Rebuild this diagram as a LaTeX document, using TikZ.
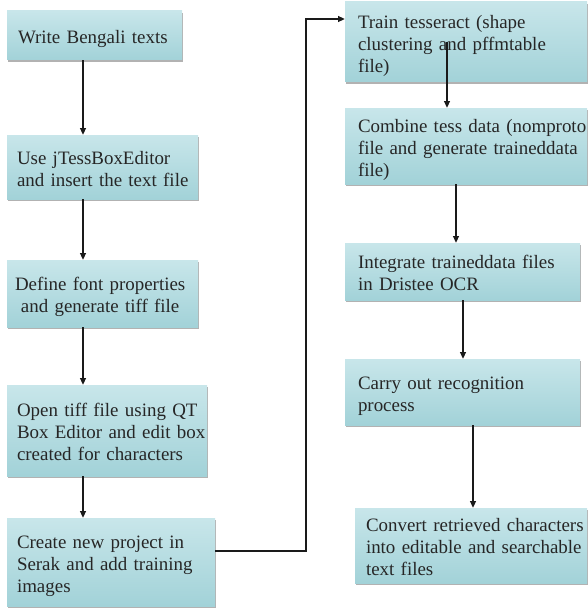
\documentclass[tikz,border=0pt]{standalone}
\usepackage{fontspec}
\setmainfont{Liberation Serif}
\usetikzlibrary{arrows.meta,shadows,calc}
\definecolor{boxtop}{HTML}{C8E6EA}
\definecolor{boxbot}{HTML}{A2D2D8}
\definecolor{linec}{HTML}{1A1A1A}
\tikzset{
  flowbox/.style={draw=none, top color=boxtop, bottom color=boxbot,
    drop shadow={shadow xshift=0.6pt, shadow yshift=-1.6pt, fill=black!55, opacity=0.55},
    inner sep=0pt, font=\fontsize{14.2}{16.5}\selectfont, text=black!85, align=left},
  arr/.style={draw=linec, line width=0.8pt, -{Triangle[length=5pt,width=4.5pt]}}
}
% \fbx{name}{left}{top}{right}{bottom}{left inset}{column}{text}
\newcommand{\fbx}[8]{%
  \node[flowbox, minimum width={(#4-#2)*0.75pt}, minimum height={(#5-#3)*0.75pt},
        text width={(#4-#2-2*#6)*0.75pt}] (#1) at ({(#2+#4)/2},{(#3+#5)/2})
        {\raisebox{-3pt}[\height][\depth]{\begin{tabular}{@{}#7@{}}#8\end{tabular}}};}
\begin{document}
\begin{tikzpicture}[x=0.75pt,y=-0.75pt]
\useasboundingbox (0,0) rectangle (588,610);
\fbx{b1}{7}{11}{182}{60}{11}{l}{Write Bengali texts}
\fbx{b2}{7}{135}{198}{199}{10}{l}{Use jTessBoxEditor\\and insert the text file}
\fbx{b3}{7}{260}{198}{327}{8}{c}{Define font properties\\and generate tiff file}
\fbx{b4}{7}{385}{207}{476}{10}{l}{Open tiff file using QT\\Box Editor and edit box\\created for characters}
\fbx{b5}{7}{518}{215}{606}{10}{l}{Create new project in\\Serak and add training\\images}
\fbx{b6}{345}{2}{587}{82}{13}{l}{Train tesseract (shape\\clustering and pffmtable\\file)}
\fbx{b7}{345}{108}{587}{184}{13}{l}{Combine tess data (nomproto\\file and generate traineddata\\file)}
\fbx{b8}{345}{243}{580}{300}{13}{l}{Integrate traineddata files\\in Dristee OCR}
\fbx{b9}{345}{359}{580}{425}{13}{l}{Carry out recognition\\process}
\fbx{b10}{355}{508}{587}{583}{11}{l}{Convert retrieved characters\\into editable and searchable\\text files}
% helper coordinates
\coordinate (ax) at (83,0);
\coordinate (r1a) at (447,42);
\coordinate (r2) at (456,0);
\coordinate (r3) at (463,0);
\coordinate (r4) at (473,0);
\coordinate (cy) at (0,551);
\coordinate (cx) at (306,0);
\coordinate (ty) at (0,19);
% left column
\draw[arr] (b1.south -| ax) -- (b2.north -| ax);
\draw[arr] (b2.south -| ax) -- (b3.north -| ax);
\draw[arr] (b3.south -| ax) -- (b4.north -| ax);
\draw[arr] (b4.south -| ax) -- (b5.north -| ax);
% cross connector
\draw[arr] (b5.east |- cy) -- (cx |- cy) -- (cx |- ty) -- (b6.west |- ty);
% right column
\draw[arr] (r1a) -- (b7.north -| r1a);
\draw[arr] (b7.south -| r2) -- (b8.north -| r2);
\draw[arr] (b8.south -| r3) -- (b9.north -| r3);
\draw[arr] (b9.south -| r4) -- (b10.north -| r4);
\end{tikzpicture}
\end{document}
